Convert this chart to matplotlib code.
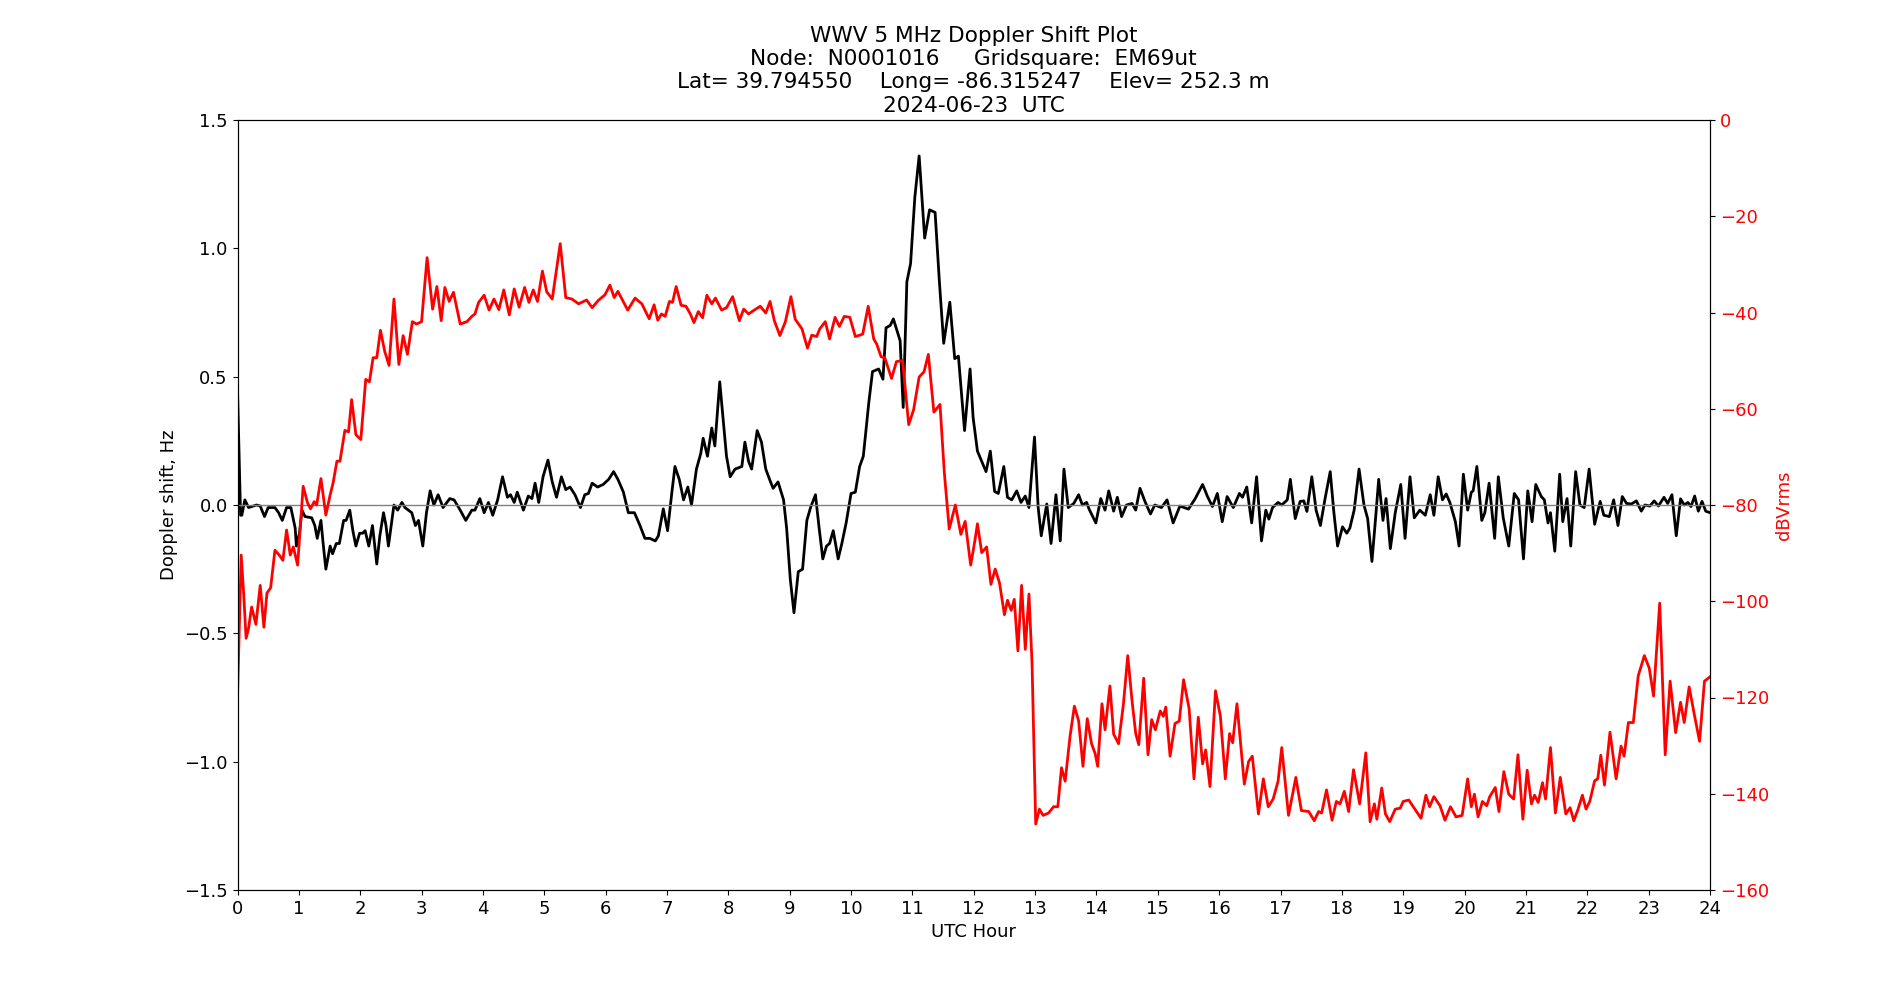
import numpy as np
import matplotlib
matplotlib.use("Agg")
import matplotlib.pyplot as plt

# ── Chart data ────────────────────────────────────────────────────────────────
TITLE = ("WWV 5 MHz Doppler Shift Plot\n"
         "Node:  N0001016     Gridsquare:  EM69ut\n"
         "Lat= 39.794550    Long= -86.315247    Elev= 252.3 m\n"
         "2024-06-23  UTC")

dop_hours = [
    0.00, 0.05, 0.07, 0.12, 0.18, 0.31, 0.37, 0.44, 0.50, 0.61, 0.67, 0.73, 0.80, 0.87,
    0.94, 0.96, 1.01, 1.05, 1.10, 1.21, 1.26, 1.30, 1.36, 1.40, 1.44, 1.51, 1.55, 1.61,
    1.66, 1.73, 1.77, 1.83, 1.88, 1.93, 1.99, 2.04, 2.08, 2.14, 2.20, 2.27, 2.32, 2.38,
    2.42, 2.46, 2.51, 2.55, 2.61, 2.68, 2.73, 2.84, 2.90, 2.95, 3.02, 3.08, 3.14, 3.20,
    3.27, 3.35, 3.46, 3.53, 3.63, 3.72, 3.82, 3.87, 3.95, 4.02, 4.09, 4.16, 4.24, 4.32,
    4.40, 4.45, 4.51, 4.56, 4.66, 4.74, 4.80, 4.85, 4.91, 4.98, 5.06, 5.13, 5.20, 5.28,
    5.35, 5.42, 5.50, 5.59, 5.66, 5.72, 5.78, 5.87, 5.96, 6.05, 6.13, 6.20, 6.29, 6.37,
    6.47, 6.56, 6.64, 6.72, 6.81, 6.86, 6.94, 7.01, 7.08, 7.13, 7.20, 7.27, 7.34, 7.40,
    7.48, 7.55, 7.59, 7.66, 7.73, 7.78, 7.86, 7.92, 7.97, 8.03, 8.11, 8.22, 8.27, 8.33,
    8.38, 8.47, 8.54, 8.61, 8.68, 8.73, 8.81, 8.90, 8.95, 9.01, 9.07, 9.14, 9.21, 9.28,
    9.34, 9.42, 9.48, 9.54, 9.60, 9.65, 9.71, 9.79, 9.85, 9.92, 10.00, 10.07, 10.14,
    10.20, 10.29, 10.35, 10.45, 10.52, 10.57, 10.64, 10.69, 10.80, 10.85, 10.91, 10.97,
    11.04, 11.11, 11.20, 11.28, 11.37, 11.44, 11.51, 11.61, 11.69, 11.75, 11.85, 11.94,
    11.99, 12.06, 12.13, 12.20, 12.27, 12.34, 12.40, 12.49, 12.55, 12.62, 12.70, 12.77,
    12.84, 12.90, 12.99, 13.05, 13.10, 13.19, 13.26, 13.34, 13.41, 13.47, 13.54, 13.63,
    13.71, 13.77, 13.84, 13.88, 13.99, 14.07, 14.14, 14.20, 14.28, 14.34, 14.41, 14.49,
    14.58, 14.64, 14.71, 14.79, 14.88, 14.95, 15.06, 15.15, 15.25, 15.36, 15.50, 15.61,
    15.73, 15.81, 15.89, 15.97, 16.05, 16.13, 16.23, 16.33, 16.38, 16.45, 16.53, 16.61,
    16.69, 16.76, 16.81, 16.87, 16.96, 17.02, 17.11, 17.16, 17.24, 17.32, 17.38, 17.43,
    17.51, 17.58, 17.65, 17.73, 17.81, 17.87, 17.93, 18.01, 18.08, 18.13, 18.20, 18.28,
    18.36, 18.42, 18.49, 18.55, 18.60, 18.67, 18.72, 18.79, 18.87, 18.96, 19.03, 19.11,
    19.18, 19.27, 19.36, 19.44, 19.50, 19.57, 19.64, 19.70, 19.76, 19.85, 19.91, 19.98,
    20.05, 20.11, 20.14, 20.20, 20.28, 20.33, 20.40, 20.49, 20.55, 20.63, 20.72, 20.81,
    20.88, 20.96, 21.03, 21.10, 21.16, 21.25, 21.30, 21.36, 21.40, 21.47, 21.55, 21.60,
    21.67, 21.73, 21.81, 21.88, 21.95, 22.03, 22.12, 22.21, 22.27, 22.36, 22.43, 22.50,
    22.57, 22.64, 22.72, 22.80, 22.88, 22.94, 23.02, 23.09, 23.16, 23.25, 23.31, 23.38,
    23.45, 23.52, 23.58, 23.64, 23.69, 23.75, 23.81, 23.87, 23.93, 24.00]

dop_hz = [
    0.45, -0.04, -0.04, 0.02, -0.01, 0.00, -0.004, -0.045, -0.01, -0.01, -0.03, -0.06, -0.01, -0.01,
    -0.09, -0.16, -0.11, -0.02, -0.045, -0.05, -0.08, -0.13, -0.06, -0.16, -0.25, -0.16, -0.19, -0.15,
    -0.15, -0.06, -0.06, -0.02, -0.10, -0.16, -0.11, -0.11, -0.10, -0.16, -0.08, -0.23, -0.12, -0.03,
    -0.08, -0.16, -0.07, 0.00, -0.02, 0.01, -0.01, -0.03, -0.08, -0.06, -0.16, -0.03, 0.055, 0.00,
    0.04, -0.01, 0.025, 0.02, -0.02, -0.06, -0.02, -0.02, 0.025, -0.03, 0.01, -0.04, 0.02, 0.11,
    0.03, 0.04, 0.01, 0.05, -0.02, 0.035, 0.025, 0.085, 0.01, 0.11, 0.175, 0.09, 0.03, 0.11,
    0.06, 0.07, 0.04, -0.01, 0.04, 0.045, 0.085, 0.07, 0.08, 0.10, 0.13, 0.10, 0.05, -0.03,
    -0.03, -0.08, -0.13, -0.13, -0.14, -0.12, -0.015, -0.10, 0.05, 0.15, 0.10, 0.02, 0.07, 0.00,
    0.14, 0.20, 0.26, 0.19, 0.30, 0.23, 0.48, 0.32, 0.19, 0.11, 0.14, 0.15, 0.245, 0.17,
    0.14, 0.29, 0.245, 0.14, 0.095, 0.065, 0.09, 0.02, -0.09, -0.29, -0.42, -0.26, -0.25, -0.06,
    -0.01, 0.04, -0.09, -0.21, -0.16, -0.15, -0.10, -0.21, -0.15, -0.07, 0.045, 0.05, 0.15,
    0.19, 0.40, 0.52, 0.53, 0.49, 0.69, 0.70, 0.725, 0.64, 0.38, 0.87, 0.94,
    1.20, 1.36, 1.04, 1.15, 1.14, 0.87, 0.63, 0.79, 0.57, 0.58, 0.29, 0.53,
    0.34, 0.21, 0.17, 0.13, 0.21, 0.053, 0.045, 0.15, 0.03, 0.02, 0.055, 0.01,
    0.035, -0.01, 0.265, -0.01, -0.12, 0.004, -0.15, 0.04, -0.14, 0.14, -0.01, 0.006,
    0.04, 0.00, 0.01, -0.016, -0.07, 0.025, -0.02, 0.055, -0.024, 0.03, -0.045, 0.00,
    0.006, -0.02, 0.065, 0.014, -0.035, 0.00, -0.01, 0.02, -0.07, -0.004, -0.016, 0.025,
    0.08, 0.033, -0.006, 0.045, -0.065, 0.033, -0.01, 0.045, 0.03, 0.07, -0.07, 0.11,
    -0.14, -0.02, -0.055, -0.01, 0.01, 0.00, 0.02, 0.10, -0.053, 0.014, 0.016, -0.025,
    0.11, -0.02, -0.08, 0.03, 0.13, -0.03, -0.16, -0.085, -0.11, -0.09, -0.02, 0.14,
    0.00, -0.053, -0.22, -0.05, 0.10, -0.06, 0.025, -0.17, -0.03, 0.08, -0.13, 0.11,
    -0.05, -0.02, -0.04, 0.04, -0.04, 0.11, 0.02, 0.043, 0.01, -0.065, -0.16, 0.12,
    -0.02, 0.05, 0.055, 0.15, -0.06, -0.03, 0.085, -0.13, 0.11, -0.05, -0.16, 0.045,
    0.02, -0.21, 0.055, -0.065, 0.08, 0.033, 0.02, -0.07, -0.03, -0.18, 0.12, -0.065,
    0.025, -0.16, 0.13, 0.00, -0.01, 0.14, -0.075, 0.014, -0.04, -0.045, 0.02, -0.08,
    0.033, 0.006, 0.004, 0.016, -0.024, 0.00, -0.004, 0.016, -0.004, 0.03, 0.006, 0.04,
    -0.12, 0.024, 0.00, 0.01, -0.006, 0.035, -0.024, 0.014, -0.024, -0.03]

pwr_hours = [
    0.00, 0.06, 0.10, 0.14, 0.18, 0.23, 0.30, 0.37, 0.43, 0.48, 0.54, 0.61, 0.68, 0.74,
    0.80, 0.86, 0.91, 0.98, 1.07, 1.14, 1.19, 1.25, 1.29, 1.36, 1.44, 1.51, 1.56, 1.62,
    1.67, 1.75, 1.81, 1.86, 1.93, 2.01, 2.09, 2.15, 2.21, 2.27, 2.33, 2.40, 2.47, 2.55,
    2.63, 2.70, 2.77, 2.85, 2.92, 3.00, 3.09, 3.18, 3.25, 3.32, 3.38, 3.45, 3.52, 3.63,
    3.74, 3.82, 3.87, 3.93, 4.02, 4.10, 4.18, 4.26, 4.34, 4.43, 4.51, 4.59, 4.68, 4.75,
    4.82, 4.89, 4.97, 5.04, 5.13, 5.26, 5.35, 5.45, 5.56, 5.69, 5.78, 5.88, 5.99, 6.07,
    6.14, 6.20, 6.36, 6.48, 6.59, 6.71, 6.79, 6.85, 6.91, 6.97, 7.04, 7.09, 7.15, 7.23,
    7.31, 7.38, 7.44, 7.51, 7.58, 7.65, 7.73, 7.79, 7.89, 7.97, 8.07, 8.18, 8.25, 8.33,
    8.41, 8.52, 8.61, 8.68, 8.75, 8.84, 8.93, 9.02, 9.09, 9.20, 9.29, 9.36, 9.44, 9.49,
    9.58, 9.65, 9.74, 9.81, 9.89, 9.98, 10.07, 10.19, 10.28, 10.37, 10.42, 10.49, 10.55,
    10.66, 10.74, 10.84, 10.94, 11.02, 11.11, 11.19, 11.26, 11.35, 11.45, 11.52, 11.60,
    11.70, 11.79, 11.86, 11.95, 12.02, 12.06, 12.13, 12.21, 12.28, 12.35, 12.42, 12.50,
    12.55, 12.61, 12.66, 12.72, 12.78, 12.84, 12.90, 12.95, 13.01, 13.07, 13.13, 13.22,
    13.30, 13.37, 13.43, 13.49, 13.57, 13.64, 13.71, 13.78, 13.85, 13.92, 13.98, 14.02,
    14.09, 14.14, 14.22, 14.28, 14.36, 14.44, 14.51, 14.58, 14.64, 14.69, 14.77, 14.84,
    14.90, 14.96, 15.04, 15.09, 15.13, 15.20, 15.28, 15.35, 15.42, 15.51, 15.59, 15.66,
    15.73, 15.78, 15.85, 15.94, 16.02, 16.10, 16.17, 16.22, 16.29, 16.35, 16.41, 16.48,
    16.54, 16.64, 16.72, 16.80, 16.88, 16.96, 17.02, 17.13, 17.25, 17.34, 17.46, 17.55,
    17.62, 17.67, 17.75, 17.84, 17.91, 17.97, 18.04, 18.11, 18.19, 18.29, 18.39, 18.46,
    18.53, 18.57, 18.65, 18.71, 18.78, 18.87, 18.95, 19.00, 19.09, 19.19, 19.29, 19.37,
    19.43, 19.50, 19.60, 19.68, 19.77, 19.86, 19.96, 20.05, 20.11, 20.16, 20.22, 20.29,
    20.36, 20.41, 20.50, 20.56, 20.64, 20.72, 20.80, 20.87, 20.95, 21.02, 21.09, 21.14,
    21.20, 21.27, 21.32, 21.40, 21.48, 21.56, 21.65, 21.72, 21.78, 21.85, 21.92, 21.98,
    22.04, 22.12, 22.17, 22.22, 22.28, 22.37, 22.47, 22.55, 22.60, 22.67, 22.75, 22.83,
    22.93, 23.01, 23.08, 23.18, 23.27, 23.35, 23.44, 23.52, 23.58, 23.66, 23.75, 23.83,
    23.91, 24.00]

pwr_db = [
    -120.0, -90.4, -98.3, -107.7, -105.6, -101.2, -104.8, -96.7, -105.4, -98.3, -97.2, -89.4, -90.4, -91.5,
    -85.2, -90.4, -88.7, -92.5, -76.1, -79.5, -80.8, -79.3, -80.0, -74.5, -82.1, -77.9, -75.3, -70.9,
    -70.9, -64.5, -64.8, -58.1, -65.4, -66.4, -53.9, -54.4, -49.4, -49.4, -43.7, -48.1, -51.0, -37.2,
    -50.8, -44.8, -48.7, -41.9, -42.4, -41.9, -28.6, -39.3, -34.6, -41.7, -34.8, -37.7, -35.8, -42.4,
    -41.9, -40.8, -40.3, -37.9, -36.4, -39.5, -37.2, -39.4, -35.3, -40.5, -35.1, -38.9, -34.8, -37.9,
    -35.3, -37.7, -31.4, -35.7, -37.2, -25.7, -36.9, -37.2, -38.2, -37.4, -39.0, -37.5, -36.3, -34.3,
    -36.9, -35.6, -39.5, -37.0, -38.2, -41.3, -38.4, -41.6, -40.3, -40.8, -37.7, -37.9, -34.6, -38.5,
    -38.7, -40.3, -42.1, -39.8, -41.1, -36.4, -38.2, -37.0, -39.5, -39.0, -36.7, -41.7, -39.3, -40.3,
    -39.6, -38.7, -40.1, -37.7, -41.7, -44.8, -41.9, -36.7, -41.4, -43.4, -47.4, -44.7, -45.0, -43.4,
    -41.9, -45.5, -41.0, -42.9, -40.8, -41.0, -45.0, -44.5, -38.7, -45.5, -46.6, -49.2, -49.4,
    -53.7, -50.2, -50.0, -63.3, -60.2, -53.4, -52.3, -48.7, -60.7, -59.1, -73.2, -85.0,
    -80.0, -86.1, -83.4, -92.5, -87.3, -83.9, -89.9, -88.7, -96.5, -93.3, -96.2, -102.8,
    -99.8, -101.9, -99.6, -110.3, -96.7, -110.0, -98.5, -112.9, -146.3, -143.2, -144.5, -144.0,
    -142.7, -142.7, -134.6, -137.4, -128.0, -121.8, -124.9, -134.3, -124.4, -129.6, -131.7, -134.3,
    -121.3, -126.7, -117.6, -127.6, -129.6, -121.3, -111.3, -120.7, -127.5, -129.8, -116.0, -131.9,
    -124.6, -126.7, -122.8, -123.9, -122.0, -132.2, -125.4, -124.9, -116.3, -122.3, -136.9, -124.1,
    -133.8, -130.9, -138.5, -118.6, -123.9, -136.9, -127.5, -129.4, -121.3, -129.6, -138.0, -133.3,
    -132.2, -144.2, -136.9, -142.7, -141.1, -137.4, -130.4, -144.5, -136.6, -143.5, -143.7, -145.6,
    -143.7, -144.0, -139.2, -145.5, -141.6, -142.1, -139.5, -143.7, -135.0, -142.1, -131.5, -145.8,
    -142.1, -145.3, -138.8, -144.2, -145.8, -143.2, -143.0, -141.6, -141.3, -143.2, -145.1, -140.3,
    -142.7, -140.6, -142.5, -145.5, -142.7, -144.8, -144.5, -136.9, -142.7, -140.1, -144.8, -141.6,
    -142.5, -140.6, -138.7, -143.7, -135.4, -140.1, -141.1, -131.9, -145.3, -135.1, -142.1, -140.3,
    -141.8, -137.7, -141.1, -130.4, -144.0, -136.6, -144.2, -142.9, -145.6, -143.2, -140.3, -143.2,
    -141.6, -137.3, -136.9, -132.0, -138.2, -127.2, -136.9, -130.1, -132.2, -125.2, -125.2, -115.5,
    -111.3, -113.9, -119.7, -100.4, -131.9, -116.6, -127.3, -121.0, -125.2, -117.8, -123.9, -129.1,
    -116.6, -115.7]

X_TICKS = list(range(0, 25))
LEFT_TICKS = [-1.5, -1.0, -0.5, 0.0, 0.5, 1.0, 1.5]
RIGHT_TICKS = list(range(-160, 1, 20))


def plot_doppler():
    plt.rcParams["font.size"] = 13

    fig, ax = plt.subplots(figsize=(19, 10), dpi=100)

    ax.plot(dop_hours, dop_hz, color="black", linewidth=2)
    ax.axhline(0, color="grey", linewidth=1)
    ax.set_xlim(0, 24)
    ax.set_ylim(-1.5, 1.5)
    ax.set_xticks(X_TICKS)
    ax.set_yticks(LEFT_TICKS)
    ax.set_xlabel("UTC Hour")
    ax.set_ylabel("Doppler shift, Hz")
    ax.set_title(TITLE, fontsize="large")

    ax2 = ax.twinx()
    ax2.plot(pwr_hours, pwr_db, color="red", linewidth=2)
    ax2.set_ylim(-160, 0)
    ax2.set_yticks(RIGHT_TICKS)
    ax2.set_ylabel("dBVrms", color="red")
    ax2.tick_params(axis="y", labelcolor="red")

    fig.savefig("out.png", dpi=100)


if __name__ == "__main__":
    plot_doppler()
